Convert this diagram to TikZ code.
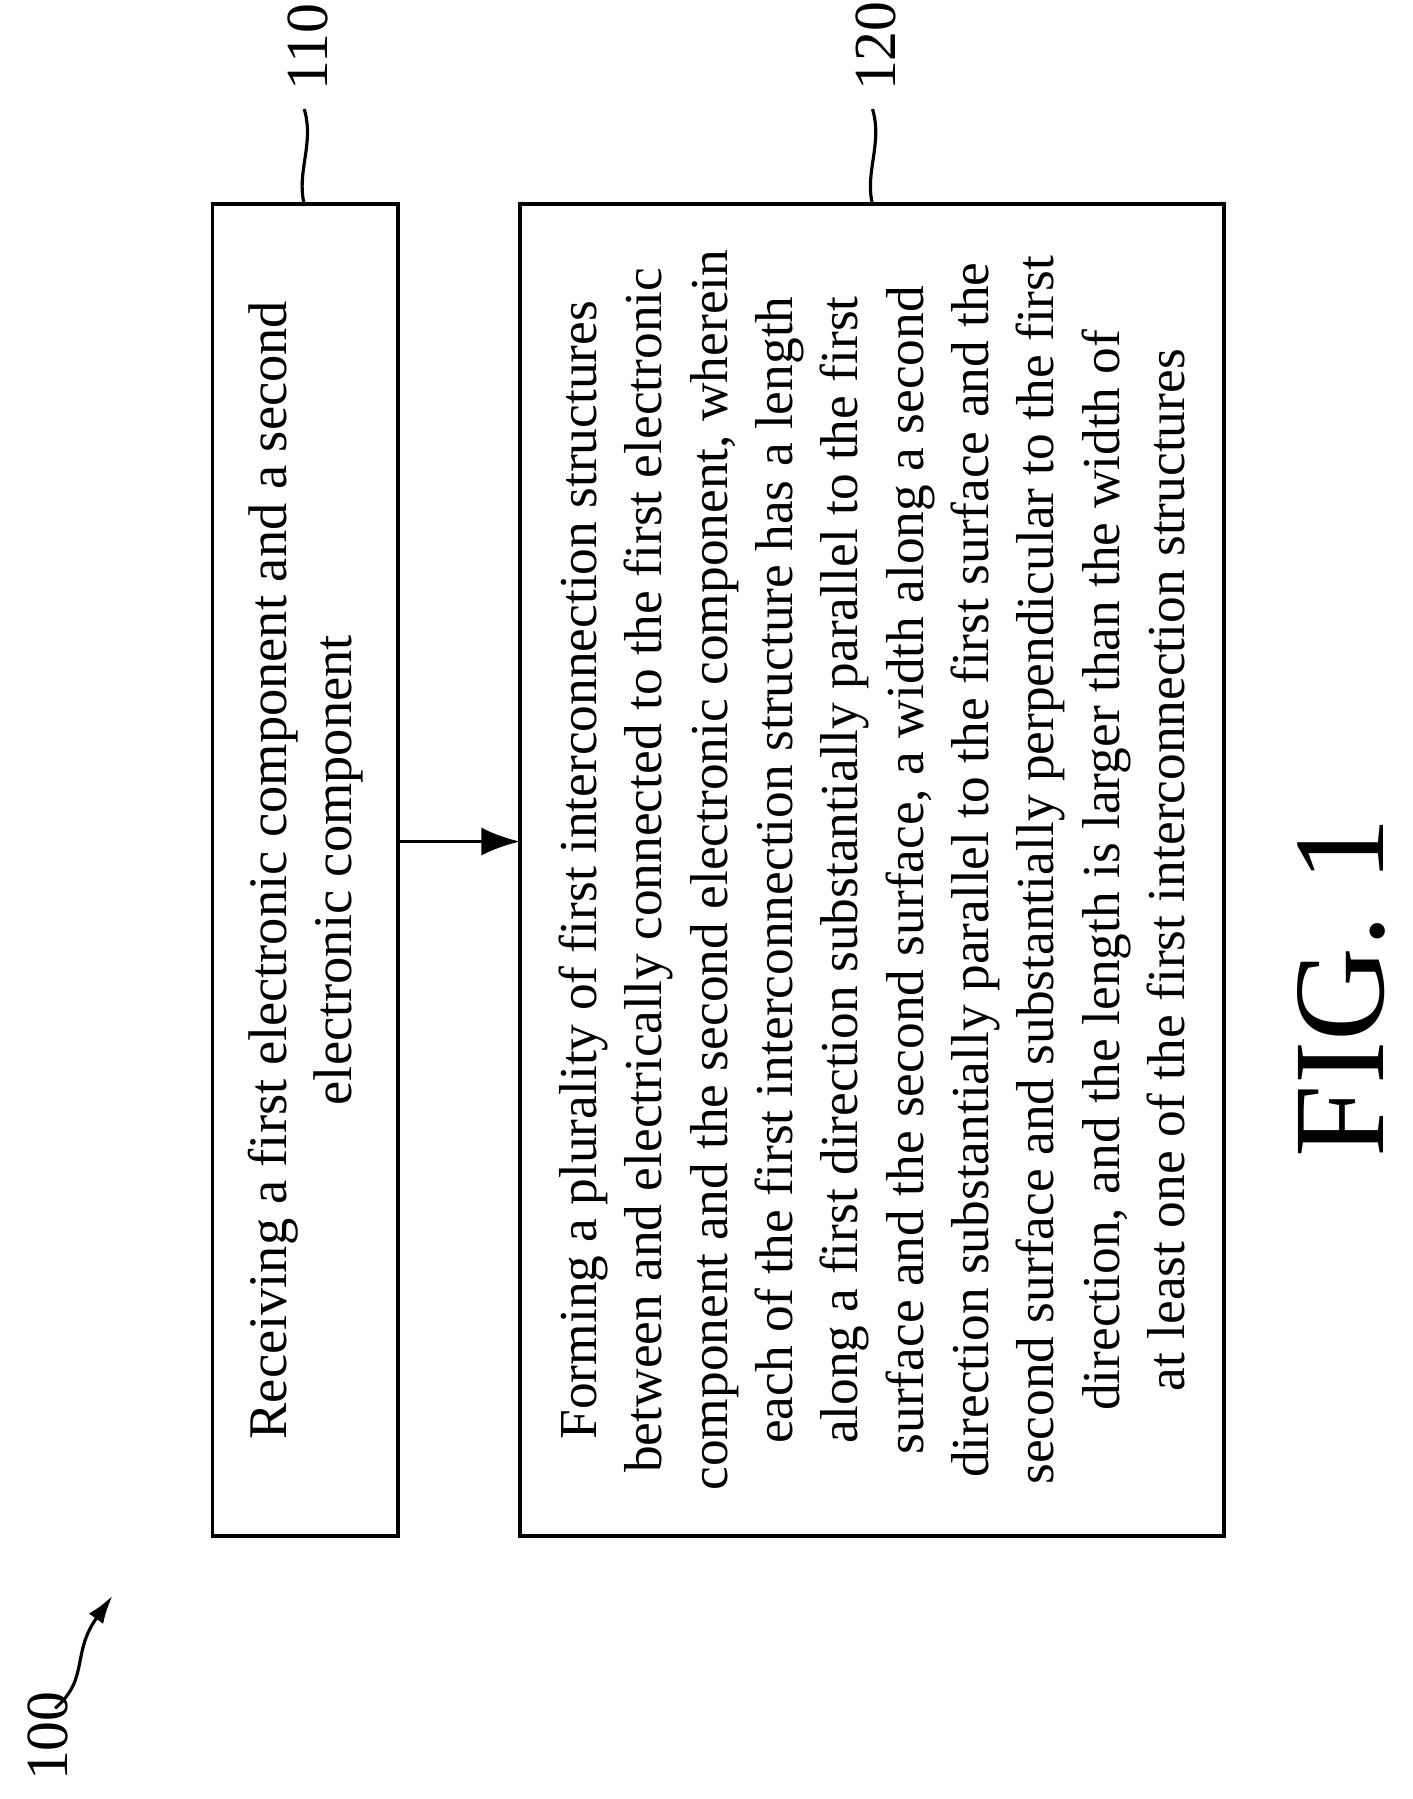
\documentclass[tikz,border=0pt]{standalone}
\usepackage{fontspec}
\setmainfont{Liberation Serif}
\usetikzlibrary{arrows.meta,positioning}

\tikzset{
  stepbox/.style={draw,line width=1.1pt,rotate=90,align=center,inner sep=0pt},
  reflabel/.style={rotate=90,font=\fontsize{17}{17}\selectfont},
  squig/.style={line width=0.9pt}
}

\begin{document}
\begin{tikzpicture}[x=0.01149cm,y=-0.01149cm]
  \useasboundingbox (0,0) rectangle (1230,1567);

  % Steps
  \node[stepbox,minimum width=13.33cm,minimum height=1.86cm,font=\fontsize{15.5}{18.5}\selectfont] (s110) at (266,758)
    {Receiving a first electronic component and a second\\ electronic component};
  \node[stepbox,minimum width=13.33cm,minimum height=7.04cm,font=\fontsize{15.2}{18.6}\selectfont] (s120) at (759.5,758)
    {Forming a plurality of first interconnection structures\\
     between and electrically connected to the first electronic\\
     component and the second electronic component, wherein\\
     each of the first interconnection structure has a length\\
     along a first direction substantially parallel to the first\\
     surface and the second surface, a width along a second\\
     direction substantially parallel to the first surface and the\\
     second surface and substantially perpendicular to the first\\
     direction, and the length is larger than the width of\\
     at least one of the first interconnection structures};

  % Flow
  \draw[line width=1.1pt,-{Latex[length=11pt,width=8pt]}] (347,733) -- (453,733);

  % Reference numerals
  \coordinate (t110) at (265,178);
  \coordinate (t120) at (760,178);
  \draw[squig] (t110) .. controls (258,150) and (274,125) .. (265,95);
  \node[reflabel,anchor=west] (n110) at (268,90) {110};
  \draw[squig] (t120) .. controls (753,150) and (769,125) .. (760,95);
  \node[reflabel,anchor=west] (n120) at (763,90) {120};

  \node[reflabel,anchor=west] (n100) at (42,1562) {100};
  \coordinate (a100) at (98,1390);
  \draw[squig,-{Latex[length=8pt,width=5pt]}] (48,1488) .. controls (78,1462) and (62,1440) .. (a100);

  \node[rotate=90,font=\fontsize{37}{37}\selectfont] (fig) at (1168,860) {FIG. 1};
\end{tikzpicture}
\end{document}
